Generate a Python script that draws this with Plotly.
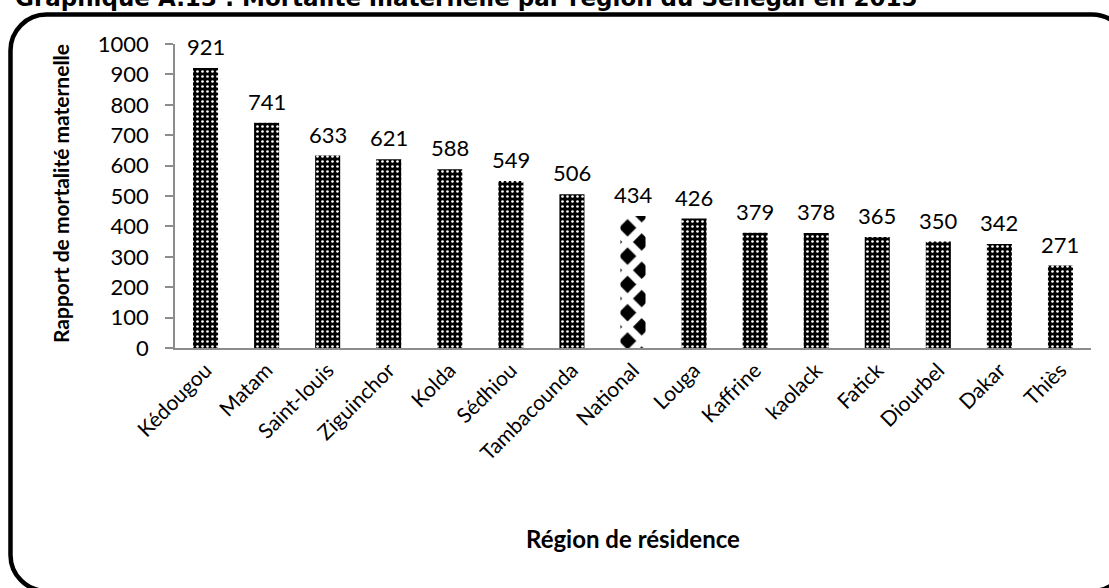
import plotly.graph_objects as go

# Rapport de mortalité maternelle par région (pour 100 000 naissances vivantes)
regions = ["Kédougou", "Matam", "Saint-louis", "Ziguinchor", "Kolda", "Sédhiou",
           "Tambacounda", "National", "Louga", "Kaffrine", "kaolack", "Fatick",
           "Diourbel", "Dakar", "Thiès"]
mortalite = [921, 741, 633, 621, 588, 549, 506, 434, 426, 379, 378, 365, 350, 342, 271]

y_ticks = list(range(0, 1001, 100))

W, H = 1109, 588
ML, MR, MT, MB = 175, 18, 44, 240
PW, PH = W - ML - MR, H - MT - MB


def px(x):
    return (x - ML) / PW


def py(y):
    return (H - MB - y) / PH


# dotted texture for regions, diamond texture for the national value
shapes_pat = ["x" if r == "National" else "." for r in regions]
sizes_pat = [20 if r == "National" else 5 for r in regions]
solid_pat = [0.62 if r == "National" else 0.22 for r in regions]

fig = go.Figure()
fig.add_trace(go.Bar(
    x=regions,
    y=mortalite,
    width=0.41,
    marker=dict(
        color="black",
        line=dict(width=0),
        pattern=dict(shape=shapes_pat, fgcolor="white", bgcolor="black",
                     fgopacity=1, fillmode="replace",
                     size=sizes_pat, solidity=solid_pat),
    ),
    cliponaxis=False,
    hoverinfo="x+y",
))

# value labels above each bar
value_labels = [
    dict(x=reg, y=val, text=str(val), xref="x", yref="y",
         xanchor="center", yanchor="bottom", yshift=6, showarrow=False,
         font=dict(family="Lato", size=22, color="black"))
    for reg, val in zip(regions, mortalite)
]

# rounded frame around the chart (right and bottom edges run past the page)
left, top, right, bottom, r = 10.5, 14.5, 1128, 591, 36
k = 0.5523 * r


def P(x, y):
    return f"{px(x):.5f},{py(y):.5f}"


path = (
    f"M {P(left + r, top)} L {P(right - r, top)} "
    f"C {P(right - r + k, top)} {P(right, top + r - k)} {P(right, top + r)} "
    f"L {P(right, bottom - r)} "
    f"C {P(right, bottom - r + k)} {P(right - r + k, bottom)} {P(right - r, bottom)} "
    f"L {P(left + r, bottom)} "
    f"C {P(left + r - k, bottom)} {P(left, bottom - r + k)} {P(left, bottom - r)} "
    f"L {P(left, top + r)} "
    f"C {P(left, top + r - k)} {P(left + r - k, top)} {P(left + r, top)} Z"
)

fig.update_layout(
    width=W, height=H,
    margin=dict(l=ML, r=MR, t=MT, b=MB),
    paper_bgcolor="white",
    plot_bgcolor="white",
    showlegend=False,
    font=dict(family="Lato", size=20, color="black"),
    shapes=[dict(type="path", path=path, xref="paper", yref="paper",
                 line=dict(color="black", width=4.5), layer="above")],
    annotations=value_labels + [
        dict(text="<b>Graphique A.13 : Mortalité maternelle par région du Sénégal en 2015</b>",
             x=px(13), y=1, yshift=MT + 17, xref="paper", yref="paper",
             xanchor="left", yanchor="top", showarrow=False,
             font=dict(family="DejaVu Sans", size=23, color="black")),
        dict(text="<b>Rapport de mortalité maternelle</b>",
             x=px(60), y=py(194), xref="paper", yref="paper",
             xanchor="center", yanchor="middle", textangle=-90, showarrow=False,
             font=dict(family="Lato", size=21, color="black")),
        dict(text="<b>Région de résidence</b>",
             x=0.5, y=py(538), xref="paper", yref="paper",
             xanchor="center", yanchor="middle", showarrow=False,
             font=dict(family="Lato", size=24, color="black")),
    ],
)

fig.update_yaxes(
    range=[0, 1000], tickvals=y_ticks,
    showgrid=False, zeroline=False,
    showline=True, linecolor="#8c8c8c", linewidth=1.5,
    ticks="outside", ticklen=8, tickcolor="#8c8c8c", tickwidth=1.5,
    ticklabelstandoff=12,
    tickfont=dict(family="Lato", size=22, color="black"),
)
fig.update_xaxes(
    showgrid=False, showline=True, linecolor="#8c8c8c", linewidth=1.5,
    ticks="", tickangle=-45,
    tickfont=dict(family="Lato", size=21, color="black"),
)

fig.write_html("out.html")
